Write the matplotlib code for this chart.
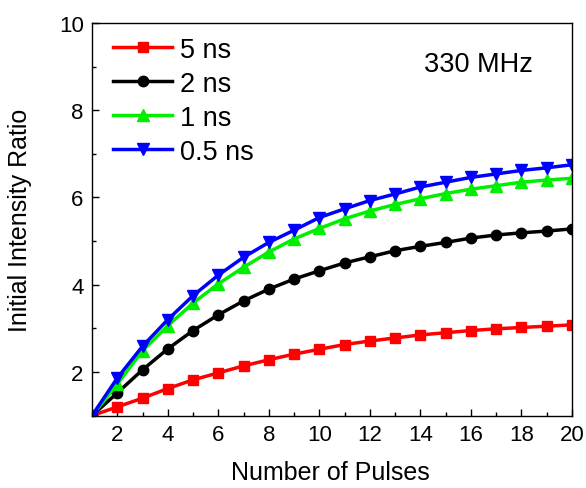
import numpy as np
import matplotlib
matplotlib.use("Agg")
import matplotlib.pyplot as plt
from matplotlib.ticker import MultipleLocator

plt.rcParams['font.family'] = ['Liberation Sans', 'DejaVu Sans']

# number of pulses
pulses = np.arange(1, 21)

# initial intensity ratio for each pulse width
ratio_5ns = [1.00, 1.20, 1.40, 1.62, 1.82, 1.98, 2.14, 2.28, 2.41, 2.52,
             2.63, 2.71, 2.78, 2.85, 2.90, 2.95, 2.99, 3.02, 3.05, 3.08]
ratio_2ns = [1.00, 1.52, 2.05, 2.53, 2.95, 3.31, 3.63, 3.90, 4.13, 4.32,
             4.50, 4.64, 4.78, 4.88, 4.97, 5.07, 5.14, 5.19, 5.23, 5.28]
ratio_1ns = [1.00, 1.72, 2.49, 3.06, 3.58, 4.02, 4.40, 4.75, 5.05, 5.29,
             5.51, 5.69, 5.84, 5.97, 6.09, 6.19, 6.27, 6.35, 6.40, 6.44]
ratio_05ns = [1.00, 1.86, 2.59, 3.20, 3.75, 4.22, 4.63, 4.97, 5.25, 5.54,
              5.74, 5.93, 6.08, 6.24, 6.35, 6.46, 6.54, 6.62, 6.68, 6.75]

labels = ['5 ns', '2 ns', '1 ns', '0.5 ns']

fig = plt.figure(figsize=(5.86, 4.89), dpi=100)
ax = fig.add_axes([0.157, 0.148, 0.819, 0.803])

ax.plot(pulses, ratio_5ns, color='#ff0000', marker='s', ms=7, lw=2.5, label=labels[0])
ax.plot(pulses, ratio_2ns, color='black', marker='o', ms=7.5, lw=2.5, label=labels[1])
ax.plot(pulses, ratio_1ns, color='#00ee00', marker='^', ms=8, lw=2.5, label=labels[2])
ax.plot(pulses, ratio_05ns, color='#0000ff', marker='v', ms=8, lw=2.5, label=labels[3])

ax.set_xlim(1, 20)
ax.set_ylim(1, 10)
ax.xaxis.set_minor_locator(MultipleLocator(1))
ax.yaxis.set_minor_locator(MultipleLocator(1))
ax.set_xticks(np.arange(2, 21, 2))
ax.set_yticks(np.arange(2, 11, 2))
ax.tick_params(which='both', direction='in', top=False, right=False, labelsize=16, width=1)
ax.tick_params(which='major', length=5, pad=6)
ax.tick_params(which='minor', length=3)
for s in ax.spines.values():
    s.set_linewidth(1)

ax.set_xlabel('Number of Pulses', fontsize=18)
ax.set_ylabel('Initial Intensity Ratio', fontsize=18)
ax.xaxis.set_label_coords(0.497, -0.112)
ax.yaxis.set_label_coords(-0.125, 0.5)

ax.text(0.806, 0.878, '330 MHz', transform=ax.transAxes, fontsize=19.5, ha='center', va='baseline')

ax.legend(loc='upper left', frameon=False, fontsize=19.5, handlelength=2.15,
          labelspacing=0.3, handletextpad=0.3, borderpad=0.4, borderaxespad=0,
          bbox_to_anchor=(0.022, 0.993))

fig.savefig('out.png', dpi=100)
